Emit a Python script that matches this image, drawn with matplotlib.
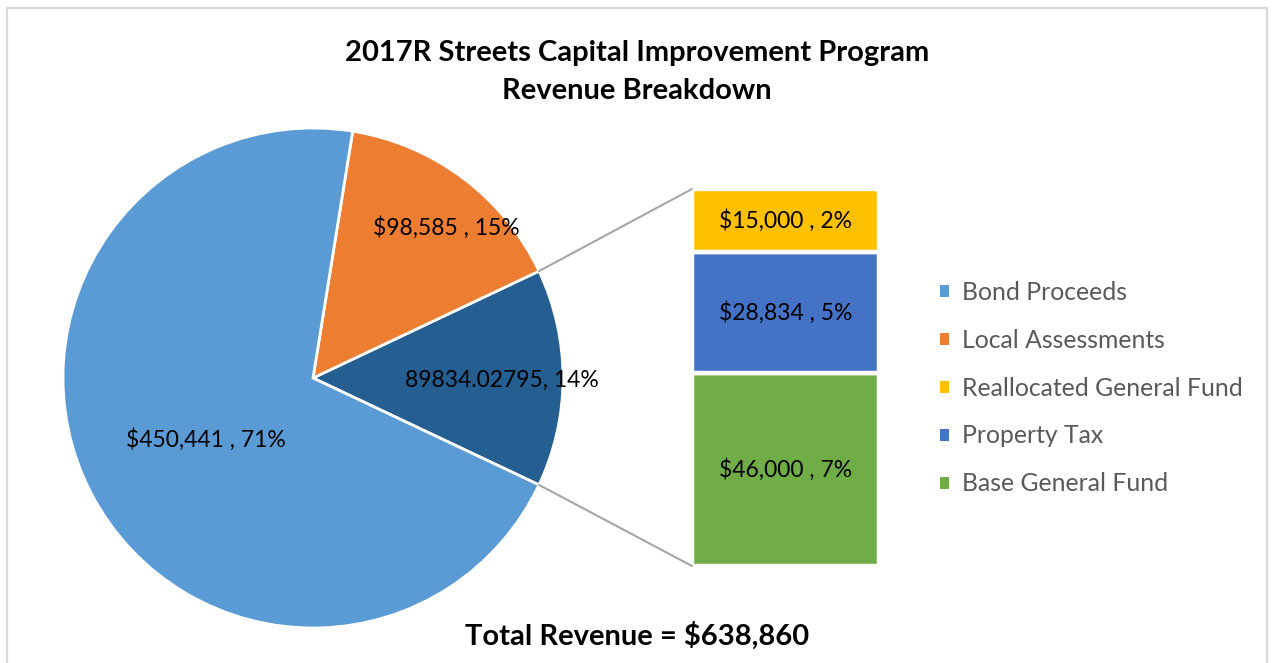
import numpy as np
import matplotlib.pyplot as plt
from matplotlib.patches import ConnectionPatch, Rectangle

plt.rcParams['font.family'] = ['Lato', 'DejaVu Sans']

# данные
bond = 450441
local = 98585
other = 89834.02795
total = 638860

bar_names = ['Base General Fund', 'Property Tax', 'Reallocated General Fund']
bar_values = [46000, 28834, 15000]

legend_order = ['Bond Proceeds', 'Local Assessments', 'Reallocated General Fund',
                'Property Tax', 'Base General Fund']

c_bond = '#5B9BD5'
c_local = '#ED7D31'
c_other = '#255E91'
bar_colors = ['#70AD47', '#4472C4', '#FFC000']

W, H = 1274, 663
fig = plt.figure(figsize=(W / 100, H / 100), dpi=100)

# рамка
fig.patches.append(Rectangle((7 / W, -0.02), 1260 / W, (H - 8) / H + 0.02,
                             transform=fig.transFigure, fill=False,
                             edgecolor='#d9d9d9', lw=1.6))

# круговая диаграмма: центр (313, 378), радиус 250 px
ax = fig.add_axes([63 / W, (H - 628) / H, 500 / W, 500 / H])
pie_vals = [other, local, bond]
share = other / total * 360
wedges, _ = ax.pie(pie_vals, colors=[c_other, c_local, c_bond],
                   startangle=-share / 2, counterclock=True,
                   wedgeprops=dict(edgecolor='white', linewidth=2))
ax.set_xlim(-1, 1)
ax.set_ylim(-1, 1)
ax.set_aspect('equal')
ax.axis('off')

fs = 16.5
pct = lambda v: round(v / total * 100)
ax.text(-0.43, -0.245, f"${bond:,} , {pct(bond)}%", ha='center', va='center', fontsize=fs)
ax.text(0.532, 0.60, f"${local:,} , {pct(local)}%", ha='center', va='center', fontsize=fs)
ax.text(0.755, -0.01, f"{other:.5f}, {pct(other)}%", ha='center', va='center', fontsize=fs)

# столбец
bx = fig.add_axes([692 / W, (H - 566) / H, 187 / W, 377 / H])
bottoms = np.concatenate([[0], np.cumsum(bar_values)[:-1]])
bars = bx.bar(0, bar_values, bottom=bottoms, width=1, color=bar_colors,
              edgecolor='white', linewidth=3.2)
bx.set_xlim(-0.5, 0.5)
bx.set_ylim(0, sum(bar_values))
bx.axis('off')
for v, b in zip(bar_values, bottoms):
    bx.text(0, b + v / 2, f"${v:,} , {pct(v)}%", ha='center', va='center', fontsize=fs)

# соединительные линии
for ang, yb in [(share / 2, sum(bar_values)), (-share / 2, 0)]:
    t = np.deg2rad(ang)
    con = ConnectionPatch(xyA=(np.cos(t), np.sin(t)), coordsA=ax.transData,
                          xyB=(-0.5, yb), coordsB=bx.transData,
                          color='#a6a6a6', lw=1.5)
    fig.add_artist(con)

# легенда
handles = {'Bond Proceeds': wedges[2], 'Local Assessments': wedges[1]}
for name, b in zip(bar_names, bars):
    handles[name] = b
leg = fig.legend([handles[n] for n in legend_order], legend_order,
                 loc='center left', bbox_to_anchor=(918 / W, 1 - 388 / H),
                 frameon=False, fontsize=17.8, handlelength=0.37, handleheight=0.37,
                 handletextpad=0.5, labelspacing=1.01, labelcolor='#595959')
for h in leg.legend_handles:
    h.set_edgecolor('none')

fig.text(637 / W, 1 - 53 / H, "2017R Streets Capital Improvement Program",
         ha='center', va='center', fontsize=21, fontweight='bold')
fig.text(637 / W, 1 - 91 / H, "Revenue Breakdown",
         ha='center', va='center', fontsize=21, fontweight='bold')
fig.text(637 / W, 1 - 636 / H, f"Total Revenue = ${total:,}",
         ha='center', va='center', fontsize=21, fontweight='bold')

fig.savefig('out.png', dpi=100)
